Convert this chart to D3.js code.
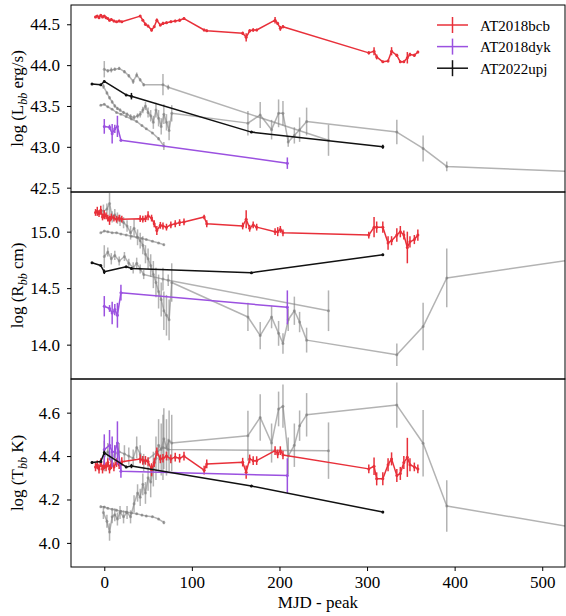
<!DOCTYPE html>
<html>
<head>
<meta charset="utf-8">
<script src="https://cdn.jsdelivr.net/npm/d3@7"></script>
<style>
  body { margin: 0; background: #fff; }
  svg { display: block; }
</style>
</head>
<body>
<svg id="chart" width="566" height="616"></svg>
<script>
// ---- AT2018bcb ----
const bcbDays = [-10,-8,-6,-4,-2,0,2,4,6,8,11,14,17,20, 41,44,47,50,54,57,60,64,67,71,76,81,86,91, 114,117, 158,162,166,170,174, 195,198,201,204, 302,308,311,318,324,328,334,338,342,346,349,354,358];
const bcbLogL = [44.59,44.60,44.58,44.61,44.59,44.60,44.58,44.57,44.55,44.56,44.54,44.53,44.54,44.53, 44.60,44.55,44.50,44.48,44.43,44.47,44.55,44.49,44.51,44.52,44.53,44.54,44.55,44.57, 44.43,44.42, 44.39,44.34,44.42,44.43,44.43, 44.55,44.51,44.45,44.47, 44.15,44.17,44.10,44.04,44.05,44.17,44.12,44.04,44.04,44.09,44.13,44.12,44.16];
const bcbLogLErr = [0.015,0.01,0.015,0.01,0.015,0.01,0.015,0.01,0.015,0.01,0.015,0.01,0.015,0.01, 0.015,0.01,0.02,0.015,0.02,0.015,0.02,0.015,0.02,0.015,0.015,0.015,0.02,0.015, 0.015,0.015, 0.02,0.05,0.02,0.02,0.015, 0.04,0.02,0.03,0.02, 0.02,0.05,0.03,0.015,0.015,0.05,0.02,0.015,0.015,0.07,0.02,0.02,0.015];
const bcbLogR = [15.17,15.18,15.16,15.19,15.13,15.15,15.14,15.12,15.10,15.13,15.12,15.11,15.12,15.11, 15.115,15.11,15.115,15.14,15.12,15.07,15.01,15.056,15.05,15.04,15.06,15.07,15.08,15.086, 15.13,15.07, 15.05,15.11,15.03,15.06,15.04, 15.00,15.00,15.02,14.99, 14.97,15.04,15.04,15.04,14.90,14.92,14.97,15.00,14.97,14.86,14.91,14.93,14.97];
const bcbLogRErr = [0.03,0.04,0.03,0.04,0.03,0.04,0.03,0.03,0.04,0.03,0.03,0.03,0.03,0.03, 0.03,0.03,0.03,0.04,0.03,0.03,0.04,0.03,0.03,0.03,0.03,0.03,0.03,0.03, 0.02,0.03, 0.03,0.08,0.03,0.03,0.03, 0.03,0.04,0.03,0.03, 0.03,0.09,0.05,0.05,0.06,0.04,0.06,0.05,0.04,0.14,0.05,0.04,0.05];
const bcbLogT = [4.35,4.36,4.34,4.37,4.34,4.36,4.35,4.37,4.34,4.36,4.35,4.37,4.36,4.374, 4.387,4.38,4.38,4.375,4.337,4.37,4.42,4.387,4.39,4.40,4.387,4.395,4.39,4.40, 4.335,4.364, 4.372,4.326,4.387,4.379,4.379, 4.425,4.41,4.425,4.405, 4.341,4.353,4.295,4.295,4.36,4.387,4.31,4.32,4.37,4.394,4.36,4.35,4.341];
const bcbLogTErr = [0.02,0.02,0.02,0.02,0.02,0.02,0.02,0.02,0.02,0.02,0.02,0.02,0.02,0.02, 0.02,0.02,0.02,0.02,0.03,0.02,0.02,0.02,0.02,0.02,0.02,0.02,0.02,0.02, 0.02,0.02, 0.02,0.03,0.02,0.02,0.02, 0.02,0.02,0.02,0.02, 0.02,0.04,0.03,0.03,0.03,0.03,0.03,0.03,0.03,0.09,0.03,0.02,0.02];

// ---- AT2018dyk ----
const dykDays = [0, 6, 9, 12, 15, 19, 209];
const dykLogL = [43.25, 43.24, 43.16, 43.22, 43.25, 43.08, 42.80];
const dykLogLErr = [0.09, 0.03, 0.12, 0.05, 0.13, 0.015, 0.07];
const dykLogR = [14.34, 14.32, 14.28, 14.31, 14.26, 14.46, 14.33];
const dykLogRErr = [0.09, 0.03, 0.10, 0.05, 0.11, 0.07, 0.15];
const dykLogT = [4.43, 4.45, 4.42, 4.42, 4.46, 4.33, 4.31];
const dykLogTErr = [0.07, 0.07, 0.07, 0.03, 0.10, 0.03, 0.08];

// ---- AT2022upj ----
const upjDays = [-14, -4, 0, 25, 31, 168, 318];
const upjLogL = [43.77, 43.76, 43.80, 43.635, 43.62, 43.18, 43.00];
const upjLogLErr = [0.01, 0.01, 0.015, 0.01, 0.04, 0.01, 0.025];
const upjLogR = [14.725, 14.70, 14.645, 14.69, 14.675, 14.637, 14.795];
const upjLogRErr = [0.005, 0.005, 0.02, 0.005, 0.01, 0.005, 0.01];
const upjLogT = [4.37, 4.375, 4.415, 4.35, 4.354, 4.262, 4.142];
const upjLogTErr = [0.005, 0.005, 0.01, 0.005, 0.01, 0.005, 0.005];

// ---- comparison events (grey) ----
const cmpADays = [-1,3,6,9,12,15,18,22,26,30,34,38,41,44,47,50,53,56,59,62,65,68,71,74,77, 164,178,191,199,204,210,217,223,231,334,364,391,560];
const cmpALogL = [43.74,43.66,43.60,43.55,43.50,43.47,43.45,43.42,43.40,43.37,43.36,43.38,43.40,43.45,43.50,43.42,43.38,43.30,43.45,43.35,43.25,43.40,43.30,43.20,43.41, 43.29,43.39,43.21,43.41,43.41,43.06,43.14,43.21,43.31,43.18,42.98,42.76,42.685];
const cmpALogLErr = [0.03,0.02,0.02,0.02,0.02,0.02,0.02,0.02,0.02,0.03,0.03,0.03,0.04,0.04,0.05,0.06,0.07,0.08,0.09,0.10,0.10,0.12,0.10,0.12,0.10, 0.15,0.16,0.12,0.17,0.15,0.06,0.10,0.15,0.17,0.15,0.16,0.06,0.05];
const cmpALogR = [15.18,15.20,15.25,15.13,15.15,15.12,15.10,15.08,15.05,14.99,15.03,14.95,14.92,14.88,14.80,14.76,14.70,14.62,14.55,14.47,14.40,14.30,14.26,14.22,14.55, 14.245,14.08,14.245,14.10,14.01,14.22,14.30,14.20,14.04,13.91,14.16,14.59,14.78];
const cmpALogRErr = [0.06,0.05,0.12,0.05,0.05,0.05,0.05,0.05,0.05,0.06,0.08,0.07,0.07,0.08,0.08,0.09,0.10,0.12,0.13,0.15,0.15,0.17,0.18,0.18,0.17, 0.125,0.12,0.10,0.11,0.09,0.10,0.125,0.09,0.11,0.10,0.21,0.26,0.05];
const cmpALogT = [4.14,4.10,4.05,4.12,4.13,4.11,4.14,4.12,4.14,4.12,4.18,4.23,4.21,4.27,4.23,4.30,4.28,4.34,4.39,4.45,4.43,4.48,4.44,4.47,4.46, 4.494,4.578,4.46,4.617,4.63,4.40,4.45,4.54,4.59,4.635,4.459,4.17,4.055];
const cmpALogTErr = [0.03,0.03,0.04,0.03,0.03,0.03,0.03,0.03,0.03,0.03,0.04,0.04,0.04,0.05,0.05,0.06,0.07,0.08,0.10,0.12,0.12,0.14,0.13,0.14,0.13, 0.115,0.107,0.09,0.08,0.10,0.085,0.10,0.07,0.10,0.104,0.153,0.119,0.03];

const cmpBDays = [0, 4, 8, 12, 17, 23, 28, 33, 37, 41, 45, 67, 73, 256];
const cmpBLogL = [43.95, 43.93, 43.94, 43.95, 43.96, 43.92, 43.87, 43.80, 43.88, 43.82, 43.76, 43.76, 43.73, 43.08];
const cmpBLogLErr = [0.10, 0.02, 0.03, 0.02, 0.02, 0.02, 0.02, 0.03, 0.03, 0.02, 0.02, 0.13, 0.03, 0.19];
const cmpBLogR = [14.78, 14.82, 14.76, 14.79, 14.74, 14.78, 14.72, 14.68, 14.72, 14.67, 14.62, 14.58, 14.57, 14.30];
const cmpBLogRErr = [0.10, 0.04, 0.05, 0.04, 0.04, 0.04, 0.04, 0.05, 0.05, 0.04, 0.04, 0.10, 0.05, 0.18];
const cmpBLogT = [4.40, 4.42, 4.38, 4.41, 4.42, 4.41, 4.40, 4.39, 4.44, 4.41, 4.37, 4.44, 4.43, 4.425];
const cmpBLogTErr = [0.07, 0.04, 0.04, 0.04, 0.04, 0.04, 0.04, 0.04, 0.05, 0.04, 0.04, 0.15, 0.05, 0.13];

const cmpCDays = [-4, 0, 4, 9, 14, 19, 25, 31, 37, 43, 48, 55, 62, 68];
const cmpCLogL = [43.51, 43.52, 43.49, 43.46, 43.42, 43.40, 43.37, 43.34, 43.31, 43.26, 43.22, 43.17, 43.10, 43.01];
const cmpCLogLErr = [0.01,0.01,0.01,0.01,0.01,0.01,0.01,0.01,0.01,0.01,0.01,0.01,0.02,0.05];
const cmpCLogR = [14.99, 15.005, 15.0, 14.99, 14.99, 14.98, 14.97, 14.96, 14.95, 14.94, 14.93, 14.915, 14.90, 14.885];
const cmpCLogRErr = [0.005,0.005,0.005,0.005,0.005,0.005,0.005,0.005,0.005,0.005,0.005,0.005,0.005,0.01];
const cmpCLogT = [4.167, 4.165, 4.16, 4.155, 4.15, 4.146, 4.142, 4.138, 4.134, 4.128, 4.124, 4.121, 4.11, 4.094];
const cmpCLogTErr = [0.005,0.005,0.005,0.005,0.005,0.005,0.005,0.005,0.005,0.005,0.005,0.005,0.005,0.008];

// ---- axes ----
const xTicks = [0, 100, 200, 300, 400, 500];
const lTicks = [42.5, 43.0, 43.5, 44.0, 44.5];
const rTicks = [14.0, 14.5, 15.0];
const tTicks = [4.0, 4.2, 4.4, 4.6];

const legendNames = ["AT2018bcb", "AT2018dyk", "AT2022upj"];

// single family name: the renderer does not fall back through lists
const FONT = '"Liberation Serif"';

const series = [
  { days: cmpADays, L: cmpALogL, Le: cmpALogLErr, R: cmpALogR, Re: cmpALogRErr, T: cmpALogT, Te: cmpALogTErr, color: "#808080", op: 0.6 },
  { days: cmpBDays, L: cmpBLogL, Le: cmpBLogLErr, R: cmpBLogR, Re: cmpBLogRErr, T: cmpBLogT, Te: cmpBLogTErr, color: "#808080", op: 0.6 },
  { days: cmpCDays, L: cmpCLogL, Le: cmpCLogLErr, R: cmpCLogR, Re: cmpCLogRErr, T: cmpCLogT, Te: cmpCLogTErr, color: "#808080", op: 0.6 },
  { days: bcbDays, L: bcbLogL, Le: bcbLogLErr, R: bcbLogR, Re: bcbLogRErr, T: bcbLogT, Te: bcbLogTErr, color: "#e8303a", op: 1, name: legendNames[0] },
  { days: dykDays, L: dykLogL, Le: dykLogLErr, R: dykLogR, Re: dykLogRErr, T: dykLogT, Te: dykLogTErr, color: "#9b51e0", op: 1, name: legendNames[1] },
  { days: upjDays, L: upjLogL, Le: upjLogLErr, R: upjLogR, Re: upjLogRErr, T: upjLogT, Te: upjLogTErr, color: "#111111", op: 1, name: legendNames[2] }
];

const svg = d3.select("#chart");
const x = d3.scaleLinear().domain([-38, 526]).range([71, 565]);

const panels = [
  { key: "L", ekey: "Le", domain: [42.447, 44.736], top: 5, bottom: 192, ticks: lTicks, label: ["log (L", "bb", " erg/s)"] },
  { key: "R", ekey: "Re", domain: [13.696, 15.351], top: 192, bottom: 379, ticks: rTicks, label: ["log (R", "bb", " cm)"] },
  { key: "T", ekey: "Te", domain: [3.889, 4.755], top: 379, bottom: 567, ticks: tTicks, label: ["log (T", "bb", " K)"] }
];

const defs = svg.append("defs");

panels.forEach((p, i) => {
  const y = d3.scaleLinear().domain(p.domain).range([p.bottom, p.top]);
  const clipId = "clip" + i;
  defs.append("clipPath").attr("id", clipId)
    .append("rect").attr("x", 71).attr("y", p.top).attr("width", 494).attr("height", p.bottom - p.top);

  const g = svg.append("g").attr("clip-path", `url(#${clipId})`);

  series.forEach(s => {
    const pts = s.days.map((d, j) => ({ d, v: s[p.key][j], e: s[p.ekey][j] }));
    const sg = g.append("g");
    const line = d3.line().x(q => x(q.d)).y(q => y(q.v));
    sg.append("path").datum(pts)
      .attr("d", line).attr("fill", "none")
      .attr("stroke", s.color).attr("stroke-opacity", s.op)
      .attr("stroke-width", 1.5).attr("stroke-linejoin", "round");
    sg.selectAll("line.eb").data(pts).join("line")
      .attr("x1", q => x(q.d)).attr("x2", q => x(q.d))
      .attr("y1", q => y(q.v - q.e)).attr("y2", q => y(q.v + q.e))
      .attr("stroke", s.color).attr("stroke-opacity", s.op).attr("stroke-width", 1.5);
    sg.selectAll("circle").data(pts).join("circle")
      .attr("cx", q => x(q.d)).attr("cy", q => y(q.v)).attr("r", 1.5)
      .attr("fill", s.color).attr("fill-opacity", s.op);
  });

  // y axis
  const ya = svg.append("g").attr("transform", "translate(71,0)")
    .call(d3.axisLeft(y).tickValues(p.ticks).tickFormat(d3.format(".1f")).tickSize(4).tickPadding(7));
  ya.attr("font-family", null).attr("font-size", null);
  ya.select(".domain").remove();
  ya.selectAll(".tick line").attr("stroke", "#000").attr("stroke-width", 1);
  ya.selectAll(".tick text").style("font-family", FONT).style("font-size", "17px").attr("fill", "#000");

  // frame
  svg.append("rect").attr("x", 71).attr("y", p.top).attr("width", 494).attr("height", p.bottom - p.top)
    .attr("fill", "none").attr("stroke", "#000").attr("stroke-width", 1);

  // y label
  const cy = (p.top + p.bottom) / 2;
  const t = svg.append("text").attr("transform", `translate(23,${cy}) rotate(-90)`)
    .attr("text-anchor", "middle").style("font-family", FONT).style("font-size", "17px");
  t.append("tspan").text(p.label[0]);
  t.append("tspan").style("font-style", "italic").style("font-size", "12px").attr("dy", 4).text(p.label[1]);
  t.append("tspan").attr("dy", -4).text(p.label[2]);

  if (i === panels.length - 1) {
    const xa = svg.append("g").attr("transform", `translate(0,${p.bottom})`)
      .call(d3.axisBottom(x).tickValues(xTicks).tickFormat(d3.format("d")).tickSize(4).tickPadding(5));
    xa.attr("font-family", null).attr("font-size", null);
    xa.select(".domain").remove();
    xa.selectAll(".tick line").attr("stroke", "#000").attr("stroke-width", 1);
    xa.selectAll(".tick text").style("font-family", FONT).style("font-size", "17px").attr("fill", "#000");
  }
});

// x label
svg.append("text").attr("x", 318).attr("y", 608).attr("text-anchor", "middle")
  .style("font-family", FONT).style("font-size", "17px").text("MJD - peak");

// legend
const legend = svg.append("g");
series.filter(s => s.name).forEach((s, k) => {
  const ly = 25 + k * 21.6;
  legend.append("line").attr("x1", 437).attr("x2", 468).attr("y1", ly).attr("y2", ly)
    .attr("stroke", s.color).attr("stroke-width", 1.5);
  legend.append("line").attr("x1", 452.5).attr("x2", 452.5).attr("y1", ly - 8).attr("y2", ly + 8)
    .attr("stroke", s.color).attr("stroke-width", 1.5);
  legend.append("text").attr("x", 480).attr("y", ly + 5.5)
    .style("font-family", FONT).style("font-size", "15px").text(s.name);
});
</script>
</body>
</html>
